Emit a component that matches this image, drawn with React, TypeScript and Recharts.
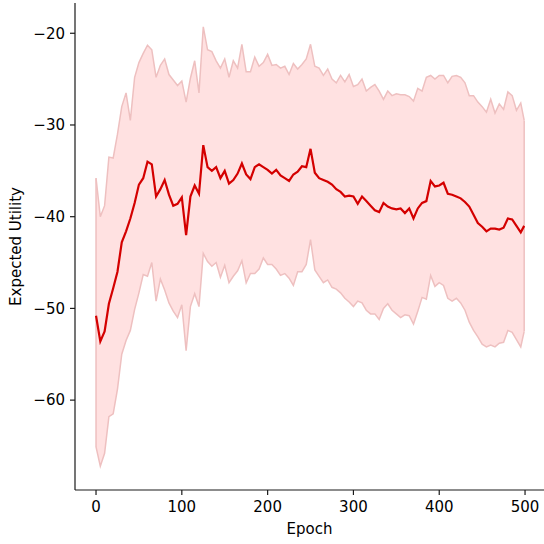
import { Area, ComposedChart, Line, ReferenceLine, XAxis, YAxis } from "recharts";

// sampled every 5 epochs (plus the last one)
const EPOCHS = [
  0, 5, 10, 15, 20, 25, 30, 35, 40, 45, 50, 55, 60, 65, 70, 75, 80, 85, 90, 95,
  100, 105, 110, 115, 120, 125, 130, 135, 140, 145, 150, 155, 160, 165, 170, 175, 180, 185, 190, 195,
  200, 205, 210, 215, 220, 225, 230, 235, 240, 245, 250, 255, 260, 265, 270, 275, 280, 285, 290, 295,
  300, 305, 310, 315, 320, 325, 330, 335, 340, 345, 350, 355, 360, 365, 370, 375, 380, 385, 390, 395,
  400, 405, 410, 415, 420, 425, 430, 435, 440, 445, 450, 455, 460, 465, 470, 475, 480, 485, 490, 495,
  499,
];

const MEAN = [
  -50.8, -53.6, -52.5, -49.5, -47.8, -46.0, -42.8, -41.6, -40.2, -38.5,
  -36.5, -35.8, -34.0, -34.3, -37.8, -37.0, -36.0, -37.6, -38.8, -38.6,
  -37.9, -42.0, -37.8, -36.6, -37.5, -32.2, -34.6, -35.0, -34.6, -35.8,
  -35.0, -36.4, -36.0, -35.3, -34.2, -35.4, -35.9, -34.6, -34.3, -34.6,
  -34.9, -35.3, -34.9, -35.5, -35.8, -36.1, -35.4, -35.1, -34.5, -34.6,
  -32.6, -35.2, -35.8, -36.0, -36.2, -36.5, -37.0, -37.3, -37.8, -37.7,
  -37.8, -38.6, -37.8, -38.3, -38.8, -39.3, -39.5, -38.5, -38.9, -39.1,
  -39.2, -39.1, -39.6, -39.1, -40.2, -39.1, -38.5, -38.3, -36.1, -36.7,
  -36.6, -36.3, -37.5, -37.6, -37.8, -38.0, -38.4, -38.9, -39.8, -40.7,
  -41.1, -41.6, -41.3, -41.3, -41.4, -41.2, -40.2, -40.3, -41.0, -41.7,
  -41.0,
];

const UPPER = [
  -35.8, -40.0, -38.8, -33.5, -33.6, -31.0, -28.0, -26.5, -29.5, -24.8,
  -23.2, -22.2, -21.3, -21.8, -24.8, -23.5, -22.8, -24.5, -25.1, -25.7,
  -25.2, -27.5, -24.9, -23.0, -26.5, -19.3, -21.8, -22.0, -23.0, -23.8,
  -22.8, -24.8, -23.0, -23.8, -21.2, -24.2, -24.2, -22.6, -23.6, -23.2,
  -22.3, -23.5, -23.4, -23.8, -23.6, -24.5, -23.3, -23.9, -23.4, -22.8,
  -21.2, -23.6, -23.8, -24.6, -23.9, -25.0, -25.4, -24.6, -25.3, -24.5,
  -25.8, -25.6, -25.0, -26.3, -25.9, -25.6, -26.3, -27.2, -26.3, -26.8,
  -26.6, -26.7, -26.7, -26.9, -27.4, -26.0, -26.3, -24.8, -24.6, -25.0,
  -24.6, -24.6, -25.4, -24.7, -24.6, -24.8, -25.4, -26.8, -26.8, -27.5,
  -28.0, -28.6, -27.2, -28.7, -27.7, -28.3, -26.4, -26.8, -28.4, -27.6,
  -29.5,
];

const LOWER = [
  -65.1, -67.2, -65.8, -61.8, -61.5, -58.8, -55.0, -53.5, -52.4, -50.1,
  -48.3, -46.3, -46.5, -45.0, -49.2, -46.8, -48.0, -49.4, -50.3, -51.0,
  -49.6, -54.6, -49.8, -48.4, -49.8, -44.0, -44.9, -45.4, -45.0, -46.6,
  -45.3, -47.2, -46.5, -45.9, -44.8, -47.2, -46.2, -46.2, -45.7, -44.5,
  -45.2, -45.2, -45.7, -46.4, -46.2, -46.7, -47.5, -46.0, -46.0, -45.2,
  -42.5, -45.8, -46.5, -47.2, -46.9, -47.7, -47.9, -48.3, -48.9, -49.3,
  -49.8, -49.2, -49.4, -50.2, -50.6, -50.6, -51.2, -50.0, -49.5, -50.2,
  -50.6, -51.0, -50.7, -50.8, -51.7, -50.3, -48.8, -49.0, -46.4, -47.6,
  -47.2, -47.5, -48.9, -49.2, -48.9, -49.4, -50.2, -51.5, -52.4, -53.1,
  -53.9, -54.2, -54.0, -54.2, -53.8, -53.7, -52.4, -52.6, -53.4, -54.2,
  -52.5,
];

const X_TICKS = [0, 100, 200, 300, 400, 500];
const Y_TICKS = [-60, -50, -40, -30, -20];

const RED = "#d40000";
const BAND_FILL = "#ffe1e1";
const BAND_EDGE = "#eec0c0";
const FONT = "DejaVu Sans";
const FONT_SIZE = 15;

const data = EPOCHS.map((epoch, i) => ({
  epoch,
  mean: MEAN[i],
  lower: LOWER[i],
  upper: UPPER[i],
  band: [LOWER[i], UPPER[i]],
}));

const last = EPOCHS.length - 1;

const fmt = (v: number) => (v < 0 ? `\u2212${Math.abs(v)}` : `${v}`);

export default function App() {
  return (
    <div style={{ position: "absolute", left: 0, top: 0, width: 544, height: 544, background: "#fff" }}>
      <ComposedChart width={544} height={544} data={data} margin={{ top: 3, right: 0, bottom: 0, left: 0 }}>
        <XAxis
          type="number"
          dataKey="epoch"
          domain={[-24.5, 522.1]}
          ticks={X_TICKS}
          allowDataOverflow
          height={54}
          stroke="#1a1a1a"
          strokeWidth={1.2}
          tickSize={5}
          tickMargin={6}
          tick={{ fill: "#000", fontFamily: FONT, fontSize: FONT_SIZE }}
          label={{
            content: (props: any) => {
              const vb = props.viewBox;
              const cx = vb.x + vb.width / 2;
              return (
                <text x={cx} y={534} textAnchor="middle" fontFamily={FONT} fontSize={FONT_SIZE} fill="#000">
                  Epoch
                </text>
              );
            },
          }}
        />
        <YAxis
          type="number"
          domain={[-69.8, -16.7]}
          ticks={Y_TICKS}
          allowDataOverflow
          width={75}
          stroke="#1a1a1a"
          strokeWidth={1.2}
          tickSize={5}
          tickMargin={5}
          tickFormatter={fmt}
          tick={{ fill: "#000", fontFamily: FONT, fontSize: FONT_SIZE }}
          label={{
            content: (props: any) => {
              const vb = props.viewBox;
              const cx = 16;
              const cy = vb.y + vb.height / 2;
              return (
                <text
                  x={cx}
                  y={cy}
                  transform={`rotate(-90 ${cx} ${cy})`}
                  textAnchor="middle"
                  dominantBaseline="central"
                  fontFamily={FONT}
                  fontSize={FONT_SIZE}
                  fill="#000"
                >
                  Expected Utility
                </text>
              );
            },
          }}
        />
        <Area
          dataKey="band"
          type="linear"
          fill={BAND_FILL}
          fillOpacity={1}
          stroke="none"
          isAnimationActive={false}
        />
        <ReferenceLine
          segment={[{ x: EPOCHS[0], y: LOWER[0] }, { x: EPOCHS[0], y: UPPER[0] }]}
          stroke={BAND_EDGE}
          strokeWidth={1.5}
        />
        <ReferenceLine
          segment={[{ x: EPOCHS[last], y: LOWER[last] }, { x: EPOCHS[last], y: UPPER[last] }]}
          stroke={BAND_EDGE}
          strokeWidth={1.5}
        />
        <Line dataKey="upper" type="linear" stroke={BAND_EDGE} strokeWidth={1.5} dot={false} isAnimationActive={false} />
        <Line dataKey="lower" type="linear" stroke={BAND_EDGE} strokeWidth={1.5} dot={false} isAnimationActive={false} />
        <Line dataKey="mean" type="linear" stroke={RED} strokeWidth={2.2} dot={false} isAnimationActive={false} />
      </ComposedChart>
    </div>
  );
}
